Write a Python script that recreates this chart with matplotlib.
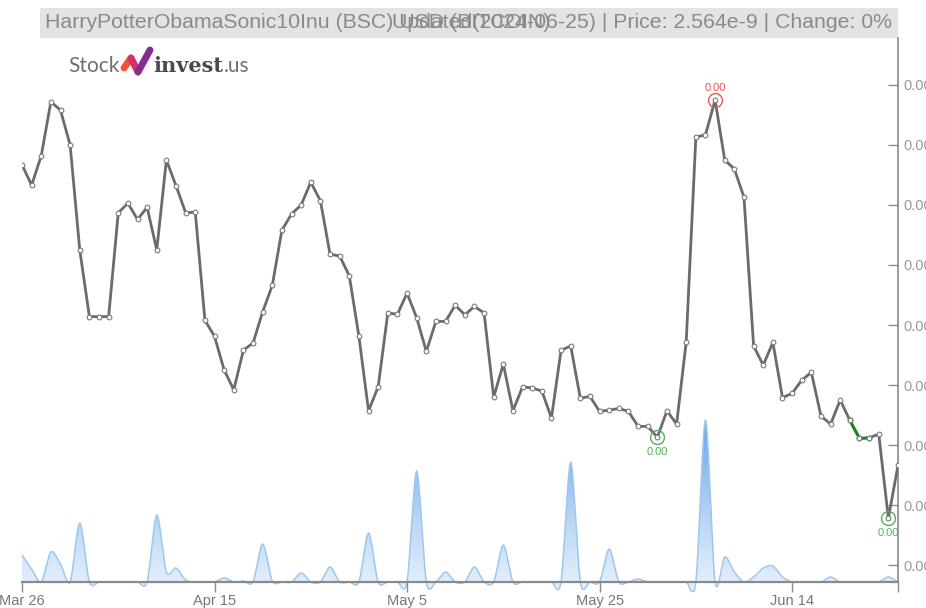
import numpy as np
import pandas as pd
import matplotlib
matplotlib.use('Agg')
import matplotlib.pyplot as plt
import matplotlib.dates as mdates
from matplotlib.patches import PathPatch
from matplotlib.path import Path
from matplotlib.ticker import FuncFormatter, FixedLocator

W, H = 926, 608

# daily closes, in units of 1e-9 USD
dates = pd.date_range('2024-03-26', '2024-06-25', freq='D')
price = np.array([
    3.067, 3.033, 3.082, 3.172, 3.158, 3.100, 2.925, 2.814, 2.814, 2.814,
    2.987, 3.003, 2.976, 2.996, 2.925, 3.075, 3.032, 2.987, 2.988, 2.808,
    2.781, 2.725, 2.692, 2.758, 2.770, 2.822, 2.866, 2.958, 2.985, 3.000,
    3.038, 3.007, 2.918, 2.915, 2.882, 2.781, 2.657, 2.697, 2.820, 2.818,
    2.853, 2.812, 2.756, 2.806, 2.806, 2.833, 2.817, 2.831, 2.820, 2.680,
    2.735, 2.657, 2.697, 2.695, 2.690, 2.645, 2.758, 2.765, 2.678, 2.681,
    2.656, 2.658, 2.661, 2.656, 2.631, 2.631, 2.613, 2.657, 2.635, 2.772,
    3.113, 3.117, 3.175, 3.075, 3.060, 3.013, 2.765, 2.733, 2.771, 2.679,
    2.686, 2.708, 2.721, 2.648, 2.635, 2.675, 2.641, 2.611, 2.612, 2.618,
    2.478, 2.566]) * 1e-9
volume = np.array([
    27, 13, 0, 30, 18, 0, 59, 0, 0, 0,
    0, 0, 0, 0, 67, 10, 14, 2, 0, 0,
    0, 4, 0, 1, 0, 38, 1, 0, 0, 9,
    0, 0, 15, 0, 0, 0, 49, 0, 0, 0,
    0, 111, 0, 0, 10, 0, 0, 15, 0, 0,
    37, 0, 0, 0, 0, 0, 0, 120, 0, 0,
    0, 33, 0, 0, 3, 0, 0, 0, 0, 0,
    0, 162, 0, 25, 10, 0, 5, 14, 16, 5,
    0, 0, 0, 0, 5, 0, 0, 0, 0, 0,
    5, 0])

tick_dates = ['2024-03-26', '2024-04-15', '2024-05-05', '2024-05-25', '2024-06-14']
tick_labels = ['Mar 26', 'Apr 15', 'May 5', 'May 25', 'Jun 14']
price_ticks = np.arange(2.4, 3.25, 0.1) * 1e-9
hi_idx = [72]
lo_idx = [66, 90]
green_span = (86, 88)

title_left = "HarryPotterObamaSonic10Inu (BSC) USD (BITCOIN)"
title_right = "Updated(2024-06-25) | Price: 2.564e-9 | Change: 0%"

SANS = ['Liberation Sans', 'DejaVu Sans']


def px(x, y):
    return x / W, 1 - y / H


def spline(x, y, n=16, k=0.85):
    """Catmull-Rom style smoothing for the volume area."""
    P = np.column_stack([x, y]).astype(float)
    P = np.vstack([P[0], P, P[-1]])
    t = np.linspace(0, 1, n, endpoint=False)[:, None]
    out = []
    for i in range(1, len(P) - 2):
        p0, p1, p2, p3 = P[i - 1], P[i], P[i + 1], P[i + 2]
        m1 = k * (p2 - p0) / 2
        m2 = k * (p3 - p1) / 2
        h00 = 2 * t**3 - 3 * t**2 + 1
        h10 = t**3 - 2 * t**2 + t
        h01 = -2 * t**3 + 3 * t**2
        h11 = t**3 - t**2
        out.append(h00 * p1 + h10 * m1 + h01 * p2 + h11 * m2)
    out.append(P[-2][None, :])
    s = np.vstack(out)
    return s[:, 0], s[:, 1]


fig = plt.figure(figsize=(W / 100, H / 100), dpi=100)

# plot area: x 22..898, y 38..582 px
l, b = px(22, 582)
r, t = px(898, 38)
ax = fig.add_axes([l, b, r - l, t - b])

# volume underlay, slightly taller so spline dips below the base show
_, vb = px(0, 592)
vax = fig.add_axes([l, vb, r - l, t - vb], zorder=0)
ax.set_zorder(1)
ax.patch.set_alpha(0)

xn = mdates.date2num(dates)
sx, sy = spline(xn, volume)
vax.set_xlim(xn[0], xn[-1])
vax.set_ylim(-10, 544)
vax.axis('off')

verts = list(zip(sx, sy)) + [(sx[-1], 0), (sx[0], 0)]
clip = PathPatch(Path(verts), facecolor='none', edgecolor='none')
vax.add_patch(clip)
grad = np.linspace(0, 1, 256)[:, None]
cols = np.zeros((256, 1, 4))
top = np.array([0.40, 0.65, 0.90])
bot = np.array([0.90, 0.94, 0.99])
cols[..., :3] = (bot + (top - bot) * grad[..., None] ** 1.2).reshape(256, 1, 3)
cols[..., 3] = 1.0
img = vax.imshow(cols, origin='lower', aspect='auto',
                 extent=[xn[0], xn[-1], -10, volume.max()], zorder=1)
img.set_clip_path(clip)
vax.plot(sx, sy, color='#9cc8ee', lw=1.1, zorder=2)

# price line
ax.plot(dates, price, color='#6b6b6b', lw=2.0, zorder=3,
        marker='o', markersize=3.4, markerfacecolor='white',
        markeredgecolor='#7a7a7a', markeredgewidth=0.8)
g0, g1 = green_span
ax.plot(dates[g0:g1 + 1], price[g0:g1 + 1], color='#138a13', lw=2.0, zorder=4)
ax.plot(dates[g0:g1 + 1], price[g0:g1 + 1], 'o', markersize=3.4,
        markerfacecolor='white', markeredgecolor='#7a7a7a',
        markeredgewidth=0.8, zorder=5)

for i in hi_idx:
    ax.plot(dates[i], price[i], 'o', markersize=10, markerfacecolor='none',
            markeredgecolor='#ee5555', markeredgewidth=1.0, zorder=6)
    ax.annotate('0.00', (dates[i], price[i]), xytext=(0, 5),
                textcoords='offset points', ha='center', va='bottom',
                color='#ee5555', fontsize=8, family=SANS, zorder=6)
for i in lo_idx:
    ax.plot(dates[i], price[i], 'o', markersize=10, markerfacecolor='none',
            markeredgecolor='#55b055', markeredgewidth=1.0, zorder=6)
    ax.annotate('0.00', (dates[i], price[i]), xytext=(0, -7),
                textcoords='offset points', ha='center', va='top',
                color='#55b055', fontsize=8, family=SANS, zorder=6)

ax.set_xlim(dates[0], dates[-1])
ax.set_ylim(2.3717e-9, 3.2783e-9)

ax.xaxis.set_major_locator(FixedLocator(mdates.date2num(pd.to_datetime(tick_dates))))
ax.set_xticklabels(tick_labels)
ax.xaxis.set_minor_locator(FixedLocator([xn[-1]]))
ax.yaxis.tick_right()
ax.set_yticks(price_ticks)
ax.yaxis.set_major_formatter(FuncFormatter(lambda v, p: f'{v:.2f}'))

for s in ['top', 'left']:
    ax.spines[s].set_visible(False)
ax.spines['bottom'].set_color('#8a8a8a')
ax.spines['bottom'].set_linewidth(1.6)
ax.spines['right'].set_color('#8a8a8a')
ax.spines['right'].set_linewidth(1.2)

ax.tick_params(axis='x', which='both', direction='out', length=7, width=1,
               color='#8a8a8a', labelcolor='#777777', labelsize=10.5, pad=1.5)
ax.tick_params(axis='y', direction='in', length=7, width=1,
               color='#8a8a8a', labelcolor='#999999', labelsize=10.5, pad=4)
for lab in ax.get_xticklabels() + ax.get_yticklabels():
    lab.set_family(SANS)

# title bar (the two texts overlap in the original too)
x0, y0 = px(40, 38)
x1, y1 = px(898, 8)
fig.patches.append(plt.Rectangle((x0, y0), x1 - x0, y1 - y0,
                                 transform=fig.transFigure,
                                 facecolor='#e3e3e3', edgecolor='none', zorder=0))
fig.text(*px(45, 23), title_left, ha='left', va='center', color='#8a8a8a',
         fontsize=15.3, family=SANS)
fig.text(*px(892, 23), title_right, ha='right', va='center', color='#8a8a8a',
         fontsize=15.3, family=SANS)

# logo
fig.text(*px(68, 72), 'Stock', ha='left', va='baseline', color='#6f6f6f',
         fontsize=15, family=['Lato', 'DejaVu Sans'])
mark = [(124, 68), (131, 58), (138, 72), (150, 50)]
mcol = ['#f0523a', '#d2306a', '#8a2c8e']
for (xa, ya), (xb, yb), c in zip(mark[:-1], mark[1:], mcol):
    fig.add_artist(plt.Line2D([xa / W, xb / W], [1 - ya / H, 1 - yb / H],
                              transform=fig.transFigure, color=c, lw=5,
                              solid_capstyle='round'))
inv = fig.text(*px(153, 72), 'invest', ha='left', va='baseline', color='#4a4a4a',
               fontsize=15, fontweight='bold', family=['DejaVu Serif'])
fig.canvas.draw()
bb = inv.get_window_extent()
fig.text(bb.x1 / W + 0.001, 1 - 72 / H, '.us', ha='left', va='baseline',
         color='#6f6f6f', fontsize=15, family=['Lato', 'DejaVu Sans'])

fig.savefig('out.png', dpi=100)
